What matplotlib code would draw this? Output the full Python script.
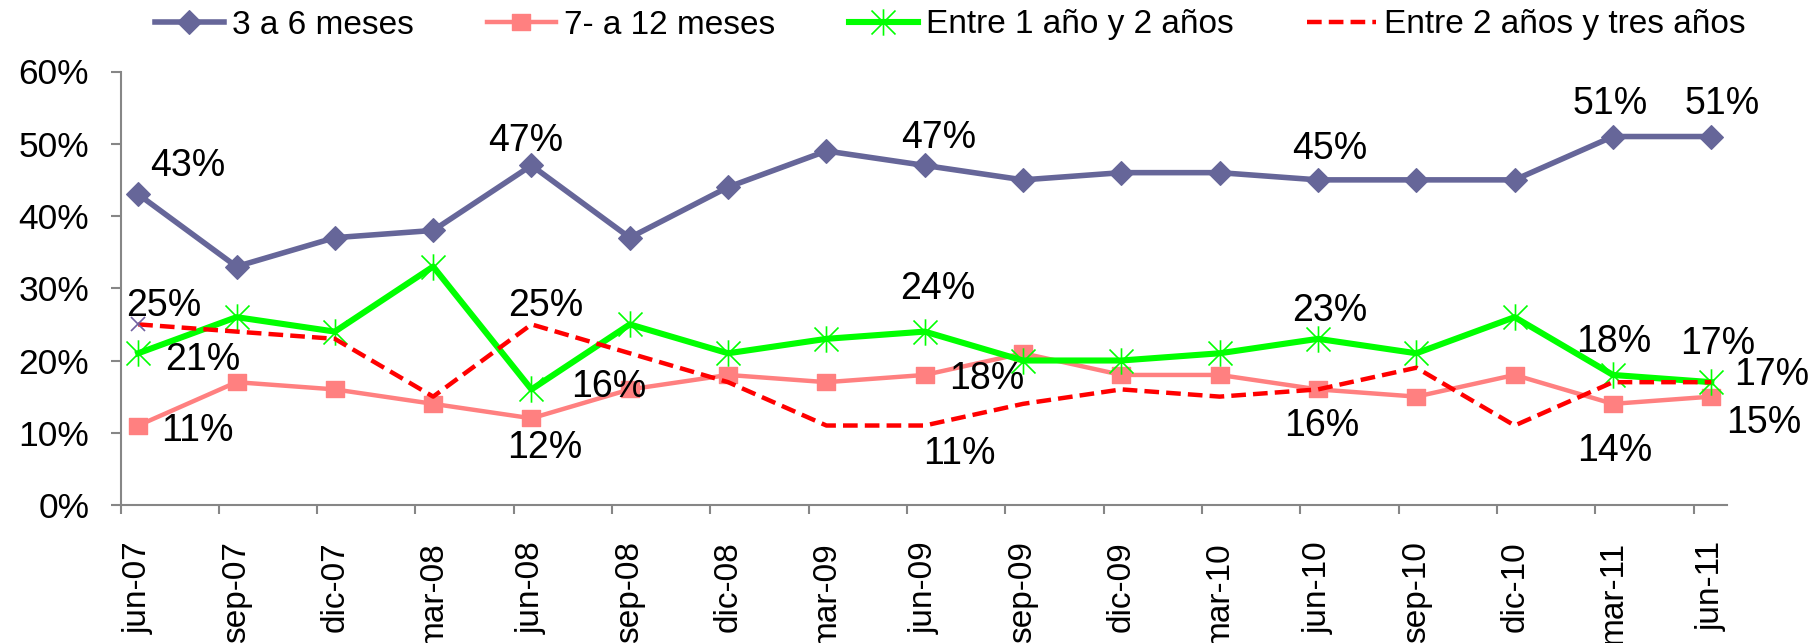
import matplotlib
matplotlib.use("Agg")
import matplotlib.pyplot as plt
from matplotlib.path import Path
import numpy as np

categories = ["jun-07", "sep-07", "dic-07", "mar-08", "jun-08", "sep-08", "dic-08",
              "mar-09", "jun-09", "sep-09", "dic-09", "mar-10", "jun-10", "sep-10",
              "dic-10", "mar-11", "jun-11"]
s_3a6 = [43, 33, 37, 38, 47, 37, 44, 49, 47, 45, 46, 46, 45, 45, 45, 51, 51]
s_7a12 = [11, 17, 16, 14, 12, 16, 18, 17, 18, 21, 18, 18, 16, 15, 18, 14, 15]
s_1a2 = [21, 26, 24, 33, 16, 25, 21, 23, 24, 20, 20, 21, 23, 21, 26, 18, 17]
s_2a3 = [25, 24, 23, 15, 25, 21, 17, 11, 11, 14, 16, 15, 16, 19, 11, 17, 17]
series_names = ["3 a 6 meses", "7- a 12 meses", "Entre 1 año y 2 años",
                "Entre 2 años y tres años"]
yticks = [0, 10, 20, 30, 40, 50, 60]

plt.rcParams["font.family"] = ["Liberation Sans", "DejaVu Sans"]

W, H = 1813, 643
fig = plt.figure(figsize=(W / 100, H / 100), dpi=100)
ax_l, ax_r, ax_b, ax_t = 120.5, 1727, 505, 71.5
ax = fig.add_axes([ax_l / W, 1 - ax_b / H, (ax_r - ax_l) / W, (ax_b - ax_t) / H])

n = len(categories)
x = np.arange(n) + 0.18

diamond = Path([(-1, 0), (0, 1), (1, 0), (0, -1), (-1, 0)],
               [Path.MOVETO, Path.LINETO, Path.LINETO, Path.LINETO, Path.CLOSEPOLY])
square = Path([(-1, -0.85), (1, -0.85), (1, 0.85), (-1, 0.85), (-1, -0.85)],
              [Path.MOVETO, Path.LINETO, Path.LINETO, Path.LINETO, Path.CLOSEPOLY])
aster = Path([(-1, -1), (1, 1), (-1, 1), (1, -1), (0, -1.1), (0, 1.1)],
             [Path.MOVETO, Path.LINETO, Path.MOVETO, Path.LINETO, Path.MOVETO, Path.LINETO])

c_blue, c_pink, c_green, c_red = "#666699", "#FF8080", "#00FF00", "#FF0000"

l1, = ax.plot(x, s_3a6, color=c_blue, lw=4.0, marker=diamond, ms=17,
              mfc=c_blue, mec=c_blue, label=series_names[0], zorder=3)
l2, = ax.plot(x, s_7a12, color=c_pink, lw=3.2, marker=square, ms=13,
              mfc=c_pink, mec=c_pink, label=series_names[1], zorder=3)
l3, = ax.plot(x, s_1a2, color=c_green, lw=4.4, marker=aster, ms=19,
              mfc="none", mec=c_green, mew=1.2, label=series_names[2], zorder=4)
l4, = ax.plot(x, s_2a3, color=c_red, lw=3.2, dashes=(3.3, 1.6),
              label=series_names[3], zorder=5)
ax.plot(x[:1], s_2a3[:1], linestyle="none", marker="x", ms=10, mew=1.2,
        color="#7060A0", zorder=6)

ax.set_xlim(0, 16.34)
ax.set_ylim(0, 60)
ax.set_yticks(yticks)
ax.set_yticklabels([f"{v}%" for v in yticks], fontsize=25.5)
ax.set_xticks(x)
ax.set_xticklabels(categories, rotation=90, fontsize=24, va="top", ha="center")
ax.set_xticks(np.arange(n), minor=True)
ax.tick_params(axis="x", which="major", length=0, pad=26)
ax.tick_params(axis="x", which="minor", length=6.7, width=1.5, color="#868686",
               direction="out")
ax.tick_params(axis="y", which="major", length=7, width=1.5, color="#868686",
               direction="out", pad=15.5)
for s in ["top", "right"]:
    ax.spines[s].set_visible(False)
for s in ["left", "bottom"]:
    ax.spines[s].set_color("#868686")
    ax.spines[s].set_linewidth(1.5)

# data labels: (series values, index, dx px, dy px of label center)
labels = [
    (s_3a6, 0, 50, 32), (s_3a6, 4, -6, 28), (s_3a6, 8, 14, 31),
    (s_3a6, 12, 12, 34), (s_3a6, 15, -3, 36), (s_3a6, 16, 11, 36),
    (s_7a12, 0, 59, -2), (s_7a12, 4, 13, -26), (s_7a12, 8, 62, -1),
    (s_7a12, 12, 4, -33), (s_7a12, 15, 2, -44), (s_7a12, 16, 52, -23),
    (s_1a2, 0, 65, -3), (s_1a2, 4, 77, 6), (s_1a2, 8, 13, 46),
    (s_1a2, 12, 12, 31), (s_1a2, 15, 1, 36), (s_1a2, 16, 6, 41),
    (s_2a3, 0, 26, 22), (s_2a3, 4, 14, 22), (s_2a3, 8, 35, -25),
    (s_2a3, 16, 60, 10),
]
for vals, i, dx, dy in labels:
    ax.annotate(f"{vals[i]}%", (x[i], vals[i]), xytext=(dx, dy - 13.3),
                textcoords="offset pixels", ha="center", va="baseline",
                fontsize=27, color="black", zorder=7, annotation_clip=False)

fig.legend(handles=[l1, l2, l3, l4], loc="center", bbox_to_anchor=(950 / W, 1 - 25 / H),
           ncol=4, frameon=False, fontsize=24, handlelength=2.07, handletextpad=0.24,
           columnspacing=2.2, borderpad=0, borderaxespad=0)

fig.savefig("out.png", dpi=100)
